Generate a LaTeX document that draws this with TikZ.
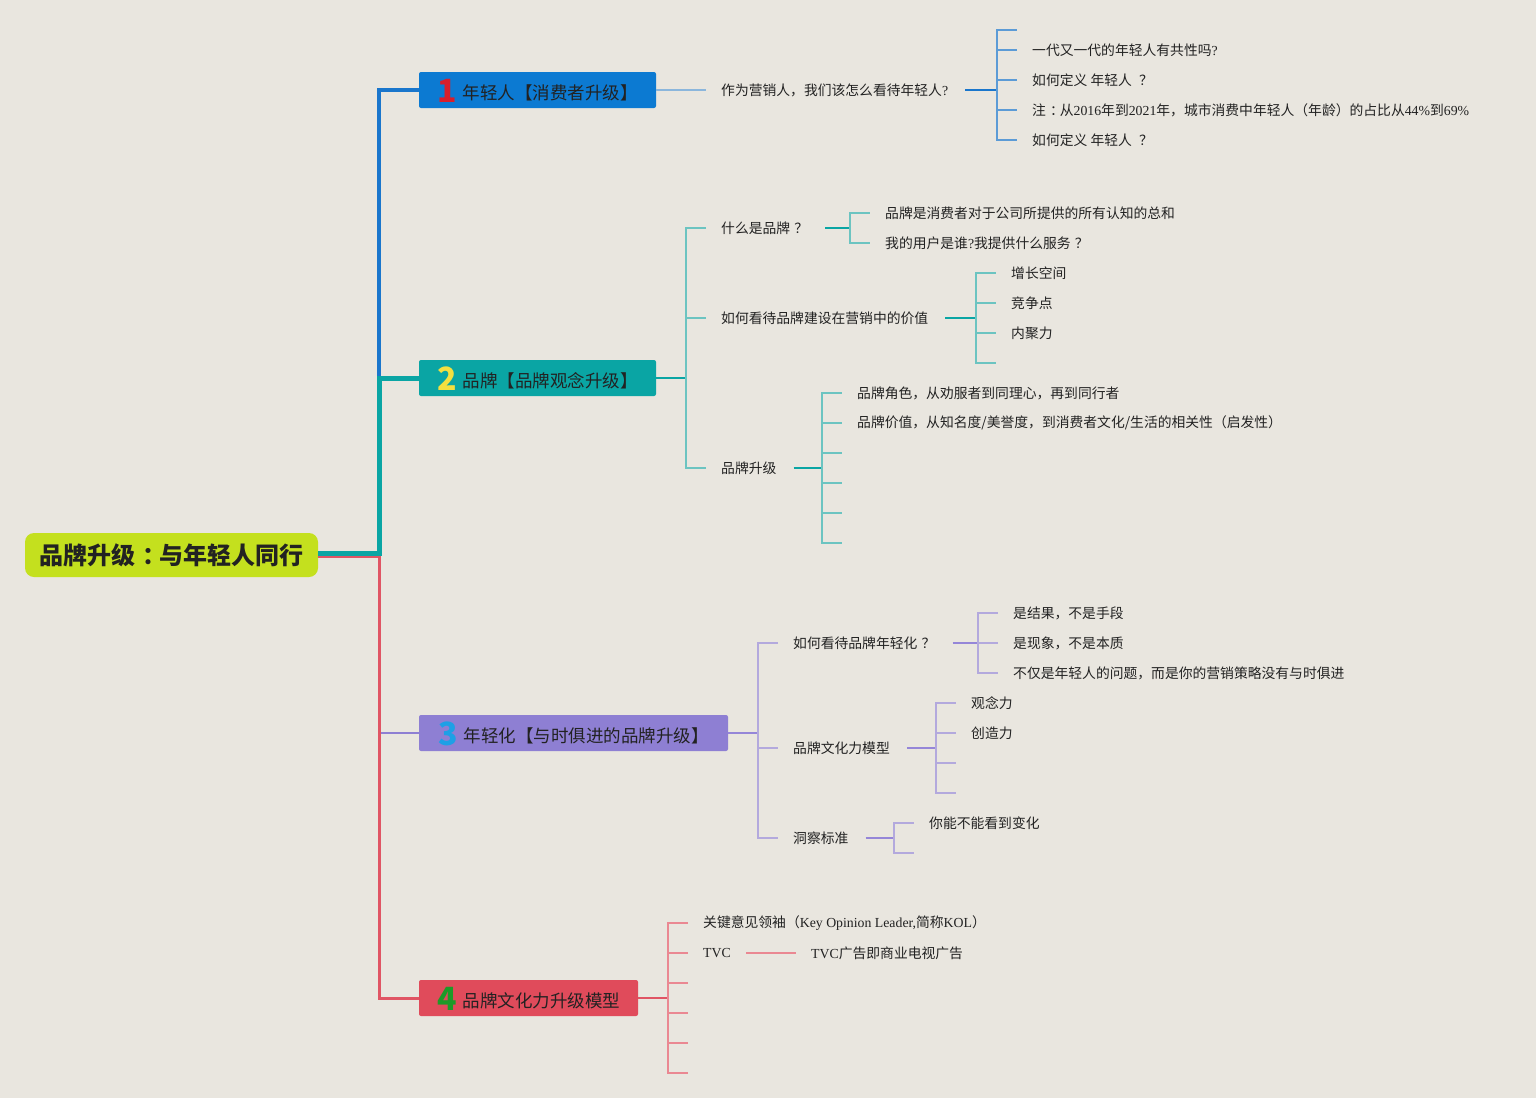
\documentclass[tikz,border=0pt]{standalone}
\usepackage{fontspec}
\setmainfont{Noto Sans CJK SC}
\newfontfamily\latfont{Liberation Serif}
\usetikzlibrary{positioning}
\usepackage{xcolor}
\definecolor{bgpaper}{HTML}{E9E6DF}
\definecolor{rootfill}{HTML}{C4E01E}
\definecolor{bluebox}{HTML}{0C7AD2}
\definecolor{tealbox}{HTML}{0AA5A4}
\definecolor{purpbox}{HTML}{8E7FD3}
\definecolor{redbox}{HTML}{E04B5B}
\definecolor{blueln}{HTML}{1A76CC}
\definecolor{bluemid}{HTML}{5C9BD6}
\definecolor{bluelt}{HTML}{8BB6DC}
\definecolor{teallt}{HTML}{6CC4C1}
\definecolor{purplt}{HTML}{B3A9DD}
\definecolor{purpdk}{HTML}{9586D8}
\definecolor{redln}{HTML}{E05564}
\definecolor{redlt}{HTML}{EA8892}
\definecolor{txt}{HTML}{222222}
\definecolor{num1}{HTML}{D81E2C}
\definecolor{num2}{HTML}{F2E040}
\definecolor{num3}{HTML}{1EA0E6}
\definecolor{num4}{HTML}{1E9A28}
\newcommand{\lat}[1]{{\latfont #1}}
\newcommand{\fq}{\kern.3em？}
\newcommand{\fc}{\kern.3em：\kern-.3em}
\newcommand{\badge}[2]{\raisebox{-3pt}{\fontsize{32}{32}\selectfont\bfseries\color{#1}#2}\hspace{6pt}}

\begin{document}
\begin{tikzpicture}[x=1pt, y=-1pt,
    every node/.style={text=txt},
    rootbox/.style={fill=rootfill, rounded corners=9pt, minimum width=293pt,
                    minimum height=44pt, inner sep=0pt,
                    font=\fontsize{24}{26}\selectfont\bfseries},
    topic/.style={rounded corners=2pt, minimum height=36pt, inner sep=0pt,
                  text height=20pt, text depth=1.8pt,
                  font=\fontsize{17.5}{20}\selectfont},
    leaf/.style={anchor=west, inner sep=0pt, font=\fontsize{13.8}{16}\selectfont},
    tick/.style={line width=1.5pt},
    link/.style={line width=2pt}
]
    \useasboundingbox (0,0) rectangle (1536,1098);
    \fill[bgpaper] (0,0) rectangle (1536,1098);

    % root and main topics
    \node[rootbox] (root) at (171.5,555) {品牌升级\fc 与年轻人同行};
    \coordinate (spine) at (379,555);
    \node[topic, fill=bluebox, minimum width=237pt] (b1) at (537.5,90)
        {\badge{num1}{1}年轻人【消费者升级】};
    \node[topic, fill=tealbox, minimum width=237pt] (b2) at (537.5,378)
        {\badge{num2}{2}品牌【品牌观念升级】};
    \node[topic, fill=purpbox, minimum width=309pt] (b3) at (573.5,733)
        {\badge{num3}{3}年轻化【与时俱进的品牌升级】};
    \node[topic, fill=redbox, minimum width=219pt] (b4) at (528.5,998)
        {\badge{num4}{4}品牌文化力升级模型};

    \draw[purpbox, line width=2.5pt] (spine |- b3.west) -- (b3.west);
    \draw[blueln, line width=3.5pt] ([yshift=1pt]root.east) -| ([yshift=1pt]spine) |- (b1.west);
    \draw[redln, line width=3pt] ([yshift=-1.5pt]root.east) -- ([yshift=-1.5pt]spine) |- (b4.west);
    \draw[tealbox, line width=5pt] ([yshift=1.5pt]root.east) -- ([yshift=1.5pt]spine) |- (b2.west);

    % branch 1
    \node[leaf] (q1) at (721,90) {作为营销人，我们该怎么看待年轻人\lat{?}};
    \coordinate (k1) at (997,90);
    \coordinate (e10) at (1017,30);
    \node[leaf] (a11) at (1032,50) {一代又一代的年轻人有共性吗\lat{?}};
    \node[leaf] (a12) at (1032,80) {如何定义 年轻人 \fq};
    \node[leaf] (a13) at (1032,110)
        {注\fc 从\lat{2016}年到\lat{2021}年，城市消费中年轻人（年龄）的占比从\lat{44\%}到\lat{69\%}};
    \node[leaf] (a14) at (1032,140) {如何定义 年轻人 \fq};
    \draw[bluelt, tick] (b1.east) -- ([xshift=-15pt]q1.west);
    \draw[blueln, link] ([xshift=17pt]q1.east) -- (k1);
    \draw[bluemid, tick] (k1) |- (e10);
    \draw[bluemid, tick] (k1) |- ([xshift=-15pt]a11.west);
    \draw[bluemid, tick] (k1) |- ([xshift=-15pt]a12.west);
    \draw[bluemid, tick] (k1) |- ([xshift=-15pt]a13.west);
    \draw[bluemid, tick] (k1) |- ([xshift=-15pt]a14.west);

    % branch 2
    \coordinate (k2) at (686,378);
    \node[leaf] (q21) at (721,228) {什么是品牌\fq};
    \node[leaf] (q22) at (721,318) {如何看待品牌建设在营销中的价值};
    \node[leaf] (q23) at (721,468) {品牌升级};
    \draw[tealbox, link] (b2.east) -- (k2);
    \draw[teallt, tick] (k2) |- ([xshift=-15pt]q21.west);
    \draw[teallt, tick] (k2) |- ([xshift=-15pt]q22.west);
    \draw[teallt, tick] (k2) |- ([xshift=-15pt]q23.west);

    \coordinate (k21) at (850,228);
    \node[leaf] (a211) at (885,213) {品牌是消费者对于公司所提供的所有认知的总和};
    \node[leaf] (a212) at (885,243) {我的用户是谁\lat{?}我提供什么服务\fq};
    \draw[tealbox, link] ([xshift=17pt]q21.east) -- (k21);
    \draw[teallt, tick] (k21) |- ([xshift=-15pt]a211.west);
    \draw[teallt, tick] (k21) |- ([xshift=-15pt]a212.west);

    \coordinate (k22) at (976,318);
    \node[leaf] (a221) at (1011,273) {增长空间};
    \node[leaf] (a222) at (1011,303) {竞争点};
    \node[leaf] (a223) at (1011,333) {内聚力};
    \coordinate (e224) at (996,363);
    \draw[tealbox, link] ([xshift=17pt]q22.east) -- (k22);
    \draw[teallt, tick] (k22) |- ([xshift=-15pt]a221.west);
    \draw[teallt, tick] (k22) |- ([xshift=-15pt]a222.west);
    \draw[teallt, tick] (k22) |- ([xshift=-15pt]a223.west);
    \draw[teallt, tick] (k22) |- (e224);

    \coordinate (k23) at (822,468);
    \node[leaf] (a231) at (857,393) {品牌角色，从劝服者到同理心，再到同行者};
    \node[leaf] (a232) at (857,423)
        {品牌价值，从知名度/美誉度，到消费者文化/生活的相关性（启发性）};
    \coordinate (e233) at (842,453);
    \coordinate (e234) at (842,483);
    \coordinate (e235) at (842,513);
    \coordinate (e236) at (842,543);
    \draw[tealbox, link] ([xshift=17pt]q23.east) -- (k23);
    \draw[teallt, tick] (k23) |- ([xshift=-15pt]a231.west);
    \draw[teallt, tick] (k23) |- ([xshift=-15pt]a232.west);
    \draw[teallt, tick] (k23) |- (e233);
    \draw[teallt, tick] (k23) |- (e234);
    \draw[teallt, tick] (k23) |- (e235);
    \draw[teallt, tick] (k23) |- (e236);

    % branch 3
    \coordinate (k3) at (758,733);
    \node[leaf] (q31) at (793,643) {如何看待品牌年轻化\fq};
    \node[leaf] (q32) at (793,748) {品牌文化力模型};
    \node[leaf] (q33) at (793,838) {洞察标准};
    \draw[purpdk, link] (b3.east) -- (k3);
    \draw[purplt, tick] (k3) |- ([xshift=-15pt]q31.west);
    \draw[purplt, tick] (k3) |- ([xshift=-15pt]q32.west);
    \draw[purplt, tick] (k3) |- ([xshift=-15pt]q33.west);

    \coordinate (k31) at (978,643);
    \node[leaf] (a311) at (1013,613) {是结果，不是手段};
    \node[leaf] (a312) at (1013,643) {是现象，不是本质};
    \node[leaf] (a313) at (1013,673) {不仅是年轻人的问题，而是你的营销策略没有与时俱进};
    \draw[purpdk, link] ([xshift=17pt]q31.east) -- (k31);
    \draw[purplt, tick] (k31) |- ([xshift=-15pt]a311.west);
    \draw[purplt, tick] (k31) |- ([xshift=-15pt]a312.west);
    \draw[purplt, tick] (k31) |- ([xshift=-15pt]a313.west);

    \coordinate (k32) at (936,748);
    \node[leaf] (a321) at (971,703) {观念力};
    \node[leaf] (a322) at (971,733) {创造力};
    \coordinate (e323) at (956,763);
    \coordinate (e324) at (956,793);
    \draw[purpdk, link] ([xshift=17pt]q32.east) -- (k32);
    \draw[purplt, tick] (k32) |- ([xshift=-15pt]a321.west);
    \draw[purplt, tick] (k32) |- ([xshift=-15pt]a322.west);
    \draw[purplt, tick] (k32) |- (e323);
    \draw[purplt, tick] (k32) |- (e324);

    \coordinate (k33) at (894,838);
    \node[leaf] (a331) at (929,823) {你能不能看到变化};
    \coordinate (e332) at (914,853);
    \draw[purpdk, link] ([xshift=17pt]q33.east) -- (k33);
    \draw[purplt, tick] (k33) |- ([xshift=-15pt]a331.west);
    \draw[purplt, tick] (k33) |- (e332);

    % branch 4
    \coordinate (k4) at (668,998);
    \node[leaf] (q41) at (703,923) {关键意见领袖（\lat{Key Opinion Leader,}简称\lat{KOL}）};
    \node[leaf] (q42) at (703,953) {\lat{TVC}};
    \node[leaf] (a421) at (811,953) {\lat{TVC}广告即商业电视广告};
    \coordinate (e43) at (688,983);
    \coordinate (e44) at (688,1013);
    \coordinate (e45) at (688,1043);
    \coordinate (e46) at (688,1073);
    \draw[redln, line width=2.5pt] (b4.east) -- (k4);
    \draw[redlt, tick] (k4) |- ([xshift=-15pt]q41.west);
    \draw[redlt, tick] (k4) |- ([xshift=-15pt]q42.west);
    \draw[redlt, tick] (k4) |- (e43);
    \draw[redlt, tick] (k4) |- (e44);
    \draw[redlt, tick] (k4) |- (e45);
    \draw[redlt, tick] (k4) |- (e46);
    \draw[redlt, tick] ([xshift=15pt]q42.east) -- ([xshift=-15pt]a421.west);
\end{tikzpicture}
\end{document}
